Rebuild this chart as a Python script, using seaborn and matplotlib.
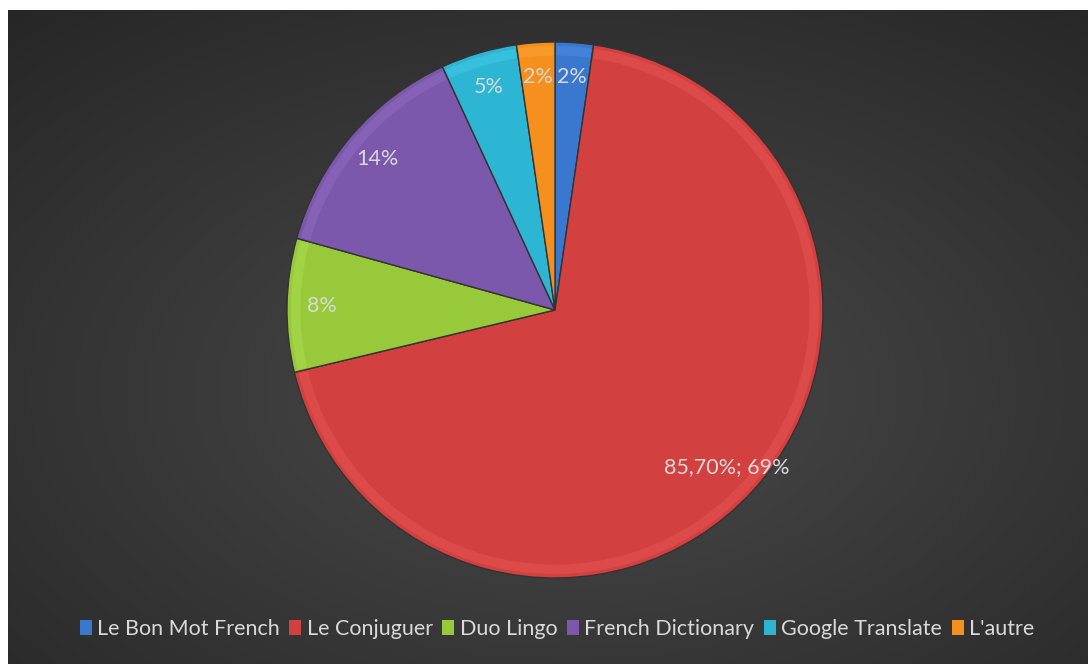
import numpy as np
import matplotlib
matplotlib.use("Agg")
import matplotlib.pyplot as plt
import seaborn as sns
from matplotlib.patches import Patch, Wedge

# ---- data ----
categories = ["Le Bon Mot French", "Le Conjuguer", "Duo Lingo",
              "French Dictionary", "Google Translate", "L'autre"]
values = [2.86, 85.70, 10.00, 17.14, 5.71, 2.86]
slice_colors = ["#3a78d0", "#d24040", "#98c93a", "#7c58ad", "#2db5d4", "#f5901e"]
value_label_index = 1  # slice whose label also shows its value

sns.set_theme(style="dark")
plt.rcParams['font.family'] = ['Lato', 'DejaVu Sans']

W, H = 1088, 664
fig = plt.figure(figsize=(W / 100, H / 100), dpi=100, facecolor="white")

# background with radial gradient
bg = fig.add_axes([8 / W, 0, 1 - 8 / W, 1 - 10 / H])
ny, nx = 300, 500
yy, xx = np.mgrid[0:ny, 0:nx]
cx, cy = nx * 0.52, ny * 0.58
d = np.sqrt(((xx - cx) / nx) ** 2 + ((yy - cy) / ny) ** 2)
d = d / d.max()
g = 0.29 - 0.14 * d
img = np.dstack([g, g, g])
bg.imshow(img, aspect="auto", extent=[0, 1, 0, 1], interpolation="bilinear")
bg.set_axis_off()

# pie axes
cxp, cyp, r = 555, 310, 268
ax = fig.add_axes([(cxp - r) / W, (H - cyp - r) / H, 2 * r / W, 2 * r / H])
ax.set_facecolor("none")

total = sum(values)
labels_txt = []
for i, v in enumerate(values):
    p = round(v / total * 100)
    if i == value_label_index:
        labels_txt.append(f"{v:.2f}%; {p}%".replace(".", ","))
    else:
        labels_txt.append(f"{p}%")

wedges, texts = ax.pie(values, colors=slice_colors, startangle=90, counterclock=False,
                       labels=labels_txt, labeldistance=0.87,
                       wedgeprops=dict(edgecolor="#333333", linewidth=1.0),
                       textprops=dict(color="#d9d9d9", fontsize=15.5))
for t in texts:
    t.set_ha("center")
    t.set_va("center")

# subtle bevel highlight along outer rim
for w, c in zip(wedges, slice_colors):
    rgb = np.array(matplotlib.colors.to_rgb(c))
    light = np.clip(rgb + 0.12, 0, 1)
    hw = Wedge((0, 0), 0.985, w.theta1 + 0.4, w.theta2 - 0.4, width=0.035,
               facecolor=light, edgecolor="none", alpha=0.35)
    ax.add_patch(hw)

ax.set_xlim(-1, 1)
ax.set_ylim(-1, 1)
ax.set_aspect("equal")
ax.set_axis_off()

handles = [Patch(facecolor=c, edgecolor="none") for c in slice_colors]
leg = fig.legend(handles, categories, loc="center", bbox_to_anchor=(557 / W, 1 - 629 / H),
                 ncol=6, frameon=False, fontsize=15.5, handlelength=0.55, handleheight=0.75,
                 handletextpad=0.25, columnspacing=0.45, labelcolor="#d9d9d9")

fig.savefig("out.png", dpi=100, facecolor="white")
